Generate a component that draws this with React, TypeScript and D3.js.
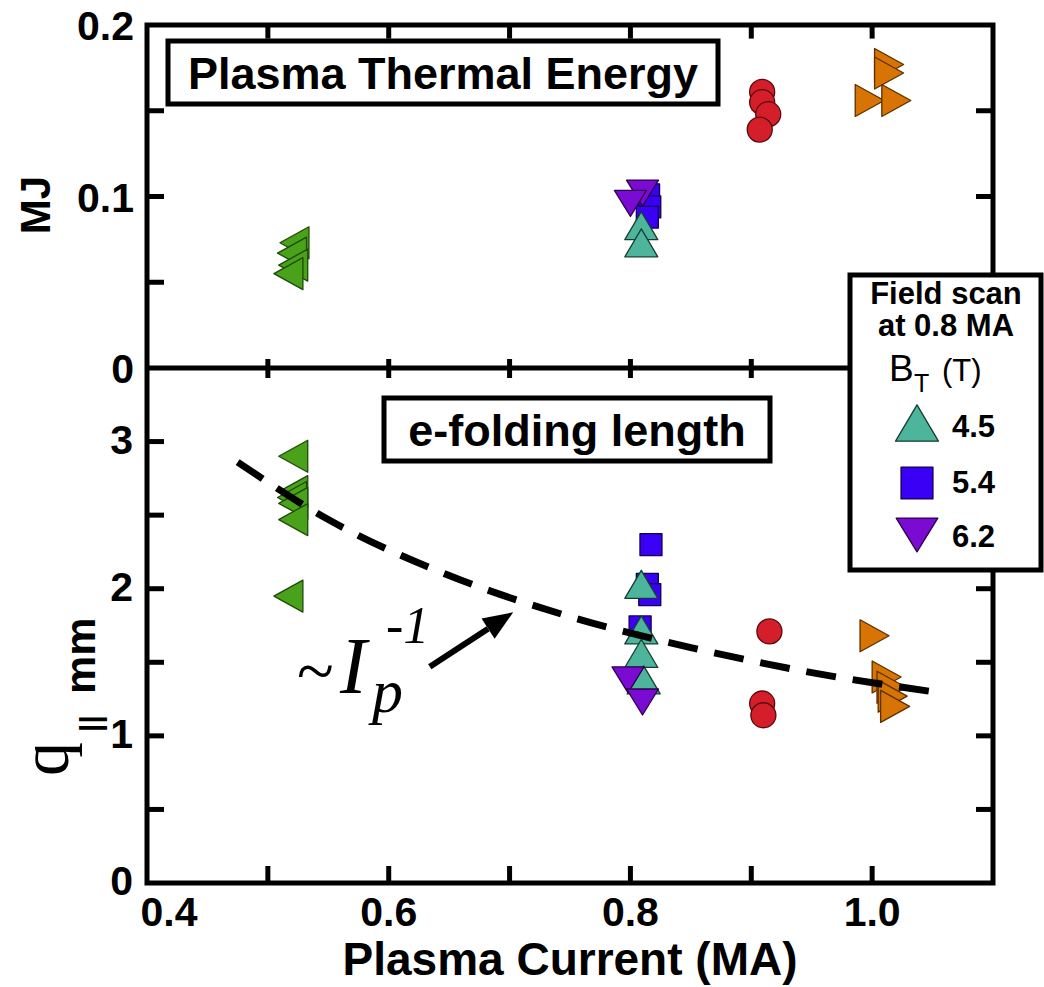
import React from 'react';
import * as d3 from 'd3';

// axis ticks
const xTicks = [0.4, 0.5, 0.6, 0.7, 0.8, 0.9, 1.0, 1.1];
const xTickLabels = [0.4, 0.6, 0.8, 1.0];
const energyTicks = [0, 0.05, 0.1, 0.15, 0.2];
const energyLabels = [0, 0.1, 0.2];
const lengthTicks = [0, 0.5, 1, 1.5, 2, 2.5, 3, 3.5];
const lengthLabels = [0, 1, 2, 3];

// stored energy (MJ) vs plasma current (MA)
const greenEnergy = [[0.522, 0.073], [0.52, 0.067], [0.521, 0.06], [0.517, 0.055]];
const blueEnergy = [[0.815, 0.101], [0.816, 0.094], [0.814, 0.088]];
const tealEnergy = [[0.809, 0.083], [0.809, 0.073]];
const purpleEnergy = [[0.81, 0.102], [0.8, 0.096]];
const redEnergy = [[0.909, 0.161], [0.909, 0.155], [0.914, 0.148], [0.907, 0.139]];
const orangeEnergy = [[1.014, 0.177], [1.014, 0.172], [0.998, 0.156], [1.02, 0.156]];

// e-folding length (mm) vs plasma current (MA)
const greenLength = [[0.521, 2.9], [0.521, 2.66], [0.52, 2.62], [0.521, 2.58], [0.521, 2.47], [0.517, 1.95]];
const blueLength = [[0.817, 2.3], [0.814, 2.03], [0.816, 1.96], [0.808, 1.74]];
const tealLength = [[0.809, 2.03], [0.809, 1.72], [0.809, 1.56], [0.811, 1.38]];
const purpleLength = [[0.798, 1.38], [0.81, 1.23]];
const redLength = [[0.915, 1.71], [0.909, 1.22], [0.91, 1.14]];
const orangeLength = [[1.002, 1.68], [1.012, 1.4], [1.016, 1.33], [1.017, 1.27], [1.019, 1.2]];

// ~Ip^-1 dashed guide
const fitCurve = [[0.475, 2.86], [0.55, 2.47], [0.65, 2.09], [0.75, 1.81], [0.85, 1.6], [0.95, 1.43], [1.05, 1.3]];
const arrowFrom = [0.634, 1.47];
const arrowTo = [0.703, 1.84];

const legendLabels = ['4.5', '5.4', '6.2'];

const SANS = '"Liberation Sans", Arial, sans-serif';
const SERIF = '"Liberation Serif", "Times New Roman", serif';

const x = d3.scaleLinear().domain([0.4, 1.1]).range([147, 993]);
const yE = d3.scaleLinear().domain([0, 0.2]).range([368, 25]);
const yL = d3.scaleLinear().domain([0, 3.5]).range([883, 368]);

function shapePath(shape, w, h) {
  if (shape === 'left') return `M${-w / 2},0L${w / 2},${-h / 2}L${w / 2},${h / 2}Z`;
  if (shape === 'right') return `M${w / 2},0L${-w / 2},${-h / 2}L${-w / 2},${h / 2}Z`;
  if (shape === 'up') return `M0,${-h / 2}L${w / 2},${h / 2}L${-w / 2},${h / 2}Z`;
  if (shape === 'down') return `M0,${h / 2}L${w / 2},${-h / 2}L${-w / 2},${-h / 2}Z`;
  if (shape === 'square') return `M${-w / 2},${-h / 2}h${w}v${h}h${-w}Z`;
  return d3.arc()({ innerRadius: 0, outerRadius: w / 2, startAngle: 0, endAngle: Math.PI * 2 });
}

const styles = {
  green: { shape: 'left', fill: '#4aa21b', stroke: '#1f4a08', w: 29, h: 32 },
  orange: { shape: 'right', fill: '#d87404', stroke: '#5a3000', w: 29, h: 32 },
  red: { shape: 'circle', fill: '#d41f2b', stroke: '#5a0a0e', w: 25, h: 25 },
  teal: { shape: 'up', fill: '#4cb59c', stroke: '#173d33', w: 33, h: 28 },
  blue: { shape: 'square', fill: '#3a00f5', stroke: '#12004a', w: 22, h: 22 },
  purple: { shape: 'down', fill: '#7b0ad2', stroke: '#2a0048', w: 32, h: 26 },
};

const energySeries = [
  ['green', greenEnergy], ['blue', blueEnergy], ['teal', tealEnergy],
  ['purple', purpleEnergy], ['red', redEnergy], ['orange', orangeEnergy],
];
const lengthSeries = [
  ['green', greenLength], ['blue', blueLength], ['teal', tealLength],
  ['purple', purpleLength], ['red', redLength], ['orange', orangeLength],
];

const Marker = ({ kind, cx, cy, scale = 1 }) => {
  const s = styles[kind];
  return (
    <path
      d={shapePath(s.shape, s.w * scale, s.h * scale)}
      transform={`translate(${cx},${cy})`}
      fill={s.fill}
      stroke={s.stroke}
      strokeWidth={1.3}
      strokeLinejoin="round"
    />
  );
};

const App = () => {
  const fmt1 = (v) => (v === 0 ? '0' : d3.format('.1f')(v));
  const fitLine = d3.line().x((d) => x(d[0])).y((d) => yL(d[1])).curve(d3.curveMonotoneX);

  const ax0 = x(arrowFrom[0]), ay0 = yL(arrowFrom[1]);
  const ax1 = x(arrowTo[0]), ay1 = yL(arrowTo[1]);
  const ang = Math.atan2(ay1 - ay0, ax1 - ax0);
  const headLen = 30, headW = 12;
  const bx = ax1 - headLen * Math.cos(ang), by = ay1 - headLen * Math.sin(ang);
  const head = `M${ax1},${ay1}L${bx + headW * Math.sin(ang)},${by - headW * Math.cos(ang)}L${bx - headW * Math.sin(ang)},${by + headW * Math.cos(ang)}Z`;

  const L = 147, R = 993, T = 25, M = 368, B = 883;
  const tk = 17;

  return (
    <svg width={1044} height={987} style={{ position: 'absolute', left: 0, top: 0, background: '#fff' }}>
      <rect x={0} y={0} width={1044} height={987} fill="#fff" />

      {/* data */}
      {energySeries.map(([kind, pts]) =>
        pts.map((d, i) => <Marker key={`e-${kind}-${i}`} kind={kind} cx={x(d[0])} cy={yE(d[1])} />)
      )}
      {lengthSeries.map(([kind, pts]) =>
        pts.map((d, i) => <Marker key={`l-${kind}-${i}`} kind={kind} cx={x(d[0])} cy={yL(d[1])} />)
      )}

      <path d={fitLine(fitCurve)} fill="none" stroke="#000" strokeWidth={7} strokeDasharray="30 17" />

      {/* frame */}
      <g stroke="#000" strokeWidth={5} fill="none">
        <rect x={L} y={T} width={R - L} height={B - T} strokeLinejoin="miter" />
        <line x1={L} x2={R} y1={M} y2={M} />
        {xTicks.slice(1, -1).map((t) => (
          <g key={`xt-${t}`}>
            <line x1={x(t)} x2={x(t)} y1={B} y2={B - tk} />
            <line x1={x(t)} x2={x(t)} y1={T} y2={T + tk * 0.8} />
            <line x1={x(t)} x2={x(t)} y1={M - 9} y2={M + 10} />
          </g>
        ))}
        {energyTicks.slice(1, -1).map((t) => (
          <g key={`et-${t}`}>
            <line x1={L} x2={L + tk} y1={yE(t)} y2={yE(t)} />
            <line x1={R} x2={R - tk} y1={yE(t)} y2={yE(t)} />
          </g>
        ))}
        {lengthTicks.slice(1, -1).map((t) => (
          <g key={`lt-${t}`}>
            <line x1={L} x2={L + tk} y1={yL(t)} y2={yL(t)} />
            <line x1={R} x2={R - tk} y1={yL(t)} y2={yL(t)} />
          </g>
        ))}
      </g>

      {/* tick labels */}
      <g fontFamily={SANS} fontWeight="bold" fontSize={41} fill="#000">
        {xTickLabels.map((t, i) => (
          <text key={`xl-${t}`} x={x(t) + (i === 0 ? 22 : 0)} y={926} textAnchor="middle">{t.toFixed(1)}</text>
        ))}
        {energyLabels.map((t) => (
          <text key={`el-${t}`} x={134} y={yE(t) + 15} textAnchor="end">{fmt1(t)}</text>
        ))}
        {lengthLabels.map((t) => (
          <text key={`ll-${t}`} x={133} y={yL(t) + 12} textAnchor="end">{t}</text>
        ))}
      </g>

      {/* axis titles */}
      <text x={570} y={975} textAnchor="middle" fontFamily={SANS} fontWeight="bold" fontSize={46}>
        Plasma Current (MA)
      </text>
      <text transform="translate(50,205) rotate(-90)" textAnchor="middle" fontFamily={SANS} fontWeight="bold" fontSize={42}>
        MJ
      </text>
      <g transform="rotate(-90)">
        <text x={-776} y={68} fontFamily={SERIF} fontSize={68}>q</text>
        <text x={-732} y={101} fontFamily={SANS} fontWeight="bold" fontSize={30}>||</text>
        <text x={-694} y={95} fontFamily={SANS} fontWeight="bold" fontSize={43}>mm</text>
      </g>

      {/* panel labels */}
      <rect x={168} y={41} width={550} height={63} fill="#fff" stroke="#000" strokeWidth={5} />
      <text x={443} y={89} textAnchor="middle" fontFamily={SANS} fontWeight="bold" fontSize={45}>
        Plasma Thermal Energy
      </text>
      <rect x={384} y={398} width={386} height={63} fill="#fff" stroke="#000" strokeWidth={5} />
      <text x={577} y={446} textAnchor="middle" fontFamily={SANS} fontWeight="bold" fontSize={45}>
        e-folding length
      </text>

      {/* ~Ip^-1 annotation */}
      <path d={`M${ax0},${ay0}L${bx},${by}`} stroke="#000" strokeWidth={6} />
      <path d={head} fill="#000" />
      <text x={297} y={694} fontFamily={SERIF} fontSize={68}>~</text>
      <text x={340} y={693} fontFamily={SERIF} fontStyle="italic" fontSize={80}>I</text>
      <text x={372} y={712} fontFamily={SERIF} fontStyle="italic" fontSize={62}>p</text>
      <text x={386} y={643} fontFamily={SERIF} fontStyle="italic" fontSize={52}>-1</text>

      {/* legend */}
      <rect x={850} y={275} width={191} height={295} fill="#fff" stroke="#000" strokeWidth={5} />
      <g fontFamily={SANS} fill="#000">
        <text x={946} y={304} textAnchor="middle" fontWeight="bold" fontSize={31}>Field scan</text>
        <text x={946} y={336} textAnchor="middle" fontWeight="bold" fontSize={31}>at 0.8 MA</text>
        <text x={889} y={381} fontSize={37}>B</text>
        <text x={914} y={392} fontSize={25}>T</text>
        <text x={942} y={381} fontSize={31}>(T)</text>
        {['teal', 'blue', 'purple'].map((k, i) => (
          <g key={`lg-${k}`}>
            <Marker kind={k} cx={917} cy={[423, 483, 535][i]} scale={k === 'blue' ? 1.45 : 1.3} />
            <text x={952} y={[437, 493, 547][i]} fontWeight="bold" fontSize={31}>{legendLabels[i]}</text>
          </g>
        ))}
      </g>
    </svg>
  );
};

export default App;
